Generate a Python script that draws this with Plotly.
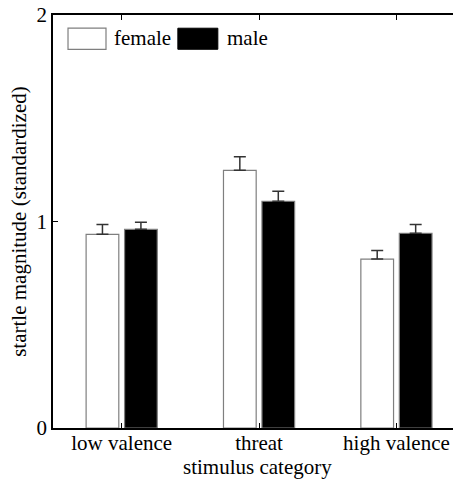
import plotly.graph_objects as go

categories = ["low valence", "threat", "high valence"]
female = [0.938, 1.248, 0.818]
female_err = [0.047, 0.066, 0.042]
male = [0.962, 1.098, 0.943]
male_err = [0.034, 0.048, 0.043]
y_ticks = [0, 1, 2]

FONT = "Liberation Serif, Times New Roman, serif"

fig = go.Figure()
fig.add_trace(go.Bar(
    x=categories, y=female, name="female",
    marker=dict(color="white", line=dict(color="#7f7f7f", width=1.2)),
    error_y=dict(type="data", symmetric=False, array=female_err,
                 arrayminus=[0] * len(female), color="#333333", thickness=1.5, width=6),
))
fig.add_trace(go.Bar(
    x=categories, y=male, name="male",
    marker=dict(color="black", line=dict(color="#7f7f7f", width=1.2)),
    error_y=dict(type="data", symmetric=False, array=male_err,
                 arrayminus=[0] * len(male), color="#333333", thickness=1.5, width=6),
))

# legend drawn as shapes/text to mimic large swatches
fig.add_shape(type="rect", xref="paper", yref="paper", x0=0.0368, x1=0.1299, y0=0.917, y1=0.968,
              line=dict(color="#7f7f7f", width=1.2), fillcolor="white")
fig.add_shape(type="rect", xref="paper", yref="paper", x0=0.306, x1=0.404, y0=0.917, y1=0.968,
              line=dict(color="black", width=1), fillcolor="black")
fig.add_annotation(xref="paper", yref="paper", x=0.145, y=0.944, text="female", showarrow=False,
                   xanchor="left", yanchor="middle", font=dict(family=FONT, size=21, color="black"))
fig.add_annotation(xref="paper", yref="paper", x=0.422, y=0.944, text="male", showarrow=False,
                   xanchor="left", yanchor="middle", font=dict(family=FONT, size=21, color="black"))

# axis titles placed precisely
fig.add_annotation(xref="paper", yref="paper", x=0.5, y=-0.061, text="stimulus category",
                   showarrow=False, xanchor="center", yanchor="top",
                   font=dict(family=FONT, size=21, color="black"))
fig.add_annotation(xref="paper", yref="paper", x=-0.085, y=0.5, text="startle magnitude (standardized)",
                   showarrow=False, xanchor="center", yanchor="middle", textangle=-90,
                   font=dict(family=FONT, size=21, color="black"))

# page body has an 8px default margin, so the figure is sized to fit the window
fig.update_layout(
    width=453, height=471,
    margin=dict(l=45, r=0, t=7, b=51),
    paper_bgcolor="white", plot_bgcolor="white",
    barmode="group", bargap=0.44, bargroupgap=0.15,
    showlegend=False,
    font=dict(family=FONT, size=21, color="black"),
    xaxis=dict(
        type="category", range=[-0.5, 2.47], automargin=False,
        showline=True, linecolor="black", linewidth=1.5, mirror="ticks",
        ticks="inside", ticklen=5, tickcolor="black", tickwidth=1,
        showgrid=False, zeroline=False, ticklabelstandoff=-5,
        tickfont=dict(family=FONT, size=21, color="black"),
    ),
    yaxis=dict(
        range=[0, 2], tickvals=y_ticks, ticktext=[str(v) for v in y_ticks], automargin=False,
        showline=True, linecolor="black", linewidth=1.5,
        ticks="inside", ticklen=5, tickcolor="black", tickwidth=1,
        showgrid=False, zeroline=False, ticklabeloverflow="allow",
        tickfont=dict(family=FONT, size=21, color="black"),
    ),
)

fig.write_html("out.html")
